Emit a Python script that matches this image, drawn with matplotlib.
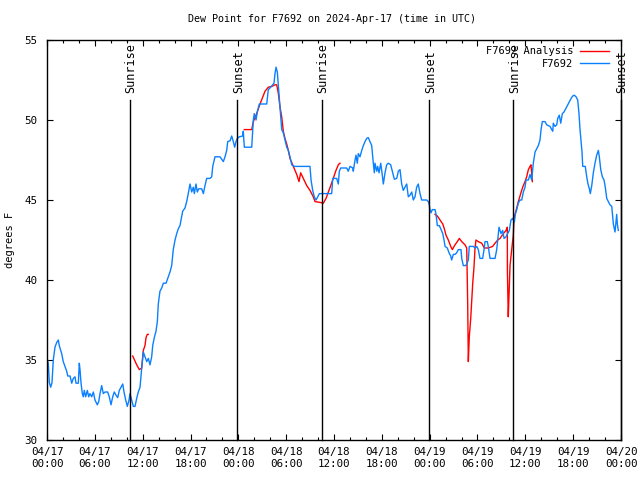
import numpy as np
import matplotlib
matplotlib.use("Agg")
import matplotlib.pyplot as plt
from matplotlib.ticker import MultipleLocator

# hours since 2024-04-17 00:00 UTC
blue_hours = [
    0.0, 0.16, 0.29, 0.46, 0.63, 0.79, 1.0, 1.22, 1.42, 1.54, 1.72, 1.84, 2.04, 2.26, 2.47, 2.60,
    2.89, 3.10, 3.30, 3.51, 3.64, 3.93, 4.05, 4.14, 4.26, 4.43, 4.55, 4.68, 4.85, 5.06, 5.23, 5.39,
    5.61, 5.81, 6.02, 6.31, 6.49, 6.65, 6.86, 7.06, 7.28, 7.61, 7.81, 8.03, 8.24, 8.44, 8.66, 8.87,
    9.07, 9.28, 9.50, 9.66, 9.87, 10.07, 10.29, 10.41, 10.62, 10.83, 11.04, 11.25, 11.45, 11.67,
    11.88, 12.08, 12.29, 12.51, 12.71, 12.92, 13.13, 13.26, 13.46, 13.67, 13.84, 13.96, 14.17, 14.39,
    14.59, 14.93, 15.22, 15.43, 15.64, 15.84, 16.06, 16.27, 16.47, 16.68, 16.90, 17.02, 17.31, 17.52,
    17.72, 17.94, 18.15, 18.35, 18.48, 18.69, 18.85, 19.03, 19.41, 19.61, 19.82, 20.03, 20.45, 20.66,
    20.79, 21.07, 21.70, 22.12, 22.33, 22.54, 22.67, 22.96, 23.17, 23.37, 23.54, 23.71, 23.87, 24.12,
    24.55, 24.62, 24.75, 25.68, 25.88, 26.00, 26.22, 26.38, 26.63, 27.56, 27.76, 27.97, 28.31, 28.47,
    28.60, 28.73, 28.89, 29.01, 29.23, 29.44, 29.64, 29.85, 30.07, 30.27, 30.48, 30.70, 31.02, 32.99,
    33.12, 33.33, 33.53, 33.74, 33.96, 34.16, 35.71, 35.84, 36.34, 36.54, 36.67, 36.84, 37.59, 37.79,
    38.01, 38.35, 38.42, 38.64, 38.76, 38.92, 39.05, 39.26, 39.48, 39.68, 39.89, 40.10, 40.30, 40.52,
    40.73, 40.93, 41.06, 41.14, 41.36, 41.48, 41.65, 41.86, 42.02, 42.19, 42.40, 42.61, 42.81, 43.11,
    43.36, 43.57, 43.87, 44.07, 44.28, 44.49, 44.69, 44.91, 45.12, 45.32, 45.53, 45.75, 45.95, 46.16,
    46.37, 46.57, 46.79, 47.00, 47.63, 47.83, 47.95, 48.04, 48.17, 48.33, 48.67, 48.80, 48.96, 49.21,
    49.39, 49.64, 49.80, 49.93, 50.21, 50.43, 50.64, 50.76, 50.97, 51.18, 51.39, 51.59, 51.93, 52.02,
    52.22, 52.52, 52.65, 52.85, 52.97, 53.48, 53.69, 53.90, 54.10, 54.31, 54.65, 54.82, 54.94, 55.23,
    55.35, 55.57, 56.20, 56.41, 56.54, 56.70, 56.83, 56.95, 57.16, 57.33, 57.58, 57.79, 57.99, 58.20,
    58.41, 58.62, 58.74, 58.92, 59.12, 59.33, 59.55, 59.75, 59.96, 60.09, 60.38, 60.59, 60.80, 61.00,
    61.22, 61.43, 61.63, 61.84, 61.97, 62.13, 62.47, 62.68, 63.10, 63.31, 63.44, 63.51, 63.72, 63.94,
    64.06, 64.26, 64.44, 64.64, 64.85, 65.06, 65.27, 65.48, 65.69, 65.94, 66.14, 66.36, 66.57, 66.73,
    66.86, 66.98, 67.11, 67.20, 67.52, 67.70, 67.86, 68.03, 68.15, 68.33, 68.53, 68.74, 68.95, 69.16,
    69.28, 69.46, 69.66, 69.87, 70.03, 70.21, 70.41, 70.62, 70.84, 71.04, 71.25, 71.46, 71.54, 71.66,
]
blue_dewpt = [
    35.1, 34.8, 33.6, 33.3, 33.6, 35.0, 35.8, 36.1, 36.25, 35.9, 35.6, 35.4, 34.9, 34.6, 34.3, 34.0,
    34.0, 33.55, 33.85, 33.95, 33.55, 33.55, 34.8, 34.4, 33.6, 32.9, 32.7, 33.1, 32.7, 33.1, 32.7, 32.9,
    32.7, 33.0, 32.5, 32.2, 32.4, 32.9, 33.4, 32.9, 33.0, 33.0, 32.7, 32.2, 32.7, 33.0, 32.8, 32.65,
    33.1, 33.3, 33.5, 33.0, 32.5, 32.1, 32.5, 32.9, 32.5, 32.1, 32.1, 32.6, 33.0, 33.3,
    34.5, 35.5, 35.2, 34.9, 35.1, 34.7, 35.2, 35.9, 36.4, 36.8, 37.4, 38.5, 39.3, 39.5,
    39.8, 39.8, 40.2, 40.5, 40.9, 41.9, 42.5, 42.9, 43.2, 43.4, 44.0, 44.3, 44.5, 44.9,
    45.4, 46.0, 45.5, 45.8, 45.4, 46.0, 45.5, 45.7, 45.7, 45.4, 45.9, 46.35, 46.35, 46.45,
    47.1, 47.7, 47.7, 47.4, 47.7, 48.1, 48.65, 48.7, 49.0, 48.65, 48.3, 48.65, 48.85, 48.95,
    49.0, 49.3, 48.3, 48.3, 50.0, 50.4, 50.0, 50.5, 51.0, 51.0, 51.9, 52.0, 52.2, 52.3,
    52.9, 53.3, 53.0, 52.2, 50.8, 49.4, 49.2, 48.75, 48.3, 48.1, 47.7, 47.2, 47.1, 47.1,
    46.25, 45.6, 45.2, 45.0, 45.2, 45.4, 45.4, 46.35, 46.35, 46.0, 46.8, 47.0, 47.0, 46.8,
    47.1, 47.0, 46.8, 47.5, 47.8, 47.3, 47.9, 47.7, 48.1, 48.4, 48.65, 48.85, 48.9, 48.65,
    48.4, 47.3, 46.7, 47.3, 46.8, 47.1, 46.7, 47.3, 46.7, 46.0, 46.7, 47.2, 47.3, 47.2,
    46.7, 46.3, 46.35, 46.8, 46.9, 46.0, 45.6, 45.8, 46.0, 45.2, 45.3, 45.5, 45.0, 45.2,
    45.8, 46.0, 45.4, 45.0, 45.0, 44.9, 44.7, 44.4, 44.2, 44.4, 44.4, 44.1, 43.4, 43.4,
    43.2, 42.9, 42.5, 42.1, 42.0, 41.7, 41.5, 41.25, 41.6, 41.6, 41.7, 41.9, 41.9, 41.35,
    40.9, 40.9, 41.0, 41.25, 42.1, 42.1, 42.0, 42.1, 41.9, 41.35, 41.35, 41.9, 42.4, 42.4,
    42.1, 41.35, 41.35, 41.9, 42.5, 43.3, 43.1, 42.9, 43.1, 42.6, 42.7, 42.9, 43.1, 43.75,
    43.85, 43.6, 44.1, 44.4, 44.8, 45.0, 45.0, 45.5, 45.8, 46.25, 46.25, 46.6, 46.25, 47.3,
    48.0, 48.2, 48.4, 48.75, 49.4, 49.9, 49.9, 49.7, 49.6, 49.4, 49.3, 49.8, 49.6, 49.7,
    50.1, 50.3, 49.8, 50.4, 50.5, 50.7, 50.9, 51.1, 51.3, 51.5, 51.55, 51.45, 51.25, 50.4,
    49.4, 48.75, 48.0, 47.1, 47.1, 46.45, 46.0, 45.7, 45.4, 45.9, 46.7, 47.3, 47.8, 48.1,
    47.7, 46.9, 46.45, 46.25, 45.8, 45.1, 44.9, 44.7, 44.6, 43.5, 43.0, 44.1, 43.5, 43.1,
]

# analysis series, NaN marks gaps between the three pieces
red_hours = [
    10.75, 11.25, 11.58, 11.88, 12.08, 12.29, 12.42, 12.58, 12.71, np.nan,
    24.75, 25.68, 25.88, 26.30, 26.72, 27.35, 27.76, 28.19, 28.60, 28.81, 29.01, 29.23, 29.44,
    29.64, 29.85, 30.07, 30.27, 30.48, 30.90, 31.32, 31.61, 31.82, 32.15, 32.58, 32.99, 33.40,
    33.62, 34.24, 34.66, 35.00, 35.29, 35.59, 35.91, 36.21, 36.54, 36.75, np.nan,
    48.67, 48.96, 49.30, 49.64, 49.84, 50.05, 50.34, 50.64, 50.84, 51.18, 51.47, 51.72, 52.02,
    52.43, 52.65, 52.77, 52.85, 52.97, 53.15, 53.27, 53.40, 53.56, 53.69, 53.81, 54.10, 54.53,
    54.85, 55.35, 55.90, 56.20, 56.54, 56.83, 57.24, 57.58, 57.74, 57.75, 57.86, 57.95, 58.08,
    58.29, 58.49, 58.58, 58.70, 58.92, 59.12, 59.42, 59.67, 59.96, 60.17, 60.38, 60.59, 60.71,
    60.88,
]
red_dewpt = [
    35.25, 34.7, 34.4, 34.5, 35.6, 35.9, 36.4, 36.6, 36.6, np.nan,
    49.4, 49.4, 49.9, 50.4, 51.0, 51.8, 52.05, 52.1, 52.2, 52.2, 51.7, 50.8, 50.2,
    49.3, 48.85, 48.5, 48.1, 47.6, 47.1, 46.6, 46.15, 46.7, 46.35, 45.9, 45.6, 45.2,
    44.9, 44.85, 44.8, 45.1, 45.5, 45.9, 46.35, 46.8, 47.2, 47.3, np.nan,
    44.1, 44.0, 43.75, 43.5, 43.2, 42.8, 42.5, 42.1, 41.9, 42.2, 42.4, 42.6, 42.4,
    42.2, 42.0, 38.5, 34.9, 36.45, 37.6, 38.65, 39.8, 40.8, 42.0, 42.5, 42.4, 42.3,
    42.0, 42.0, 42.1, 42.3, 42.5, 42.6, 42.9, 43.1, 43.3, 40.6, 37.7, 39.0, 40.9,
    41.9, 42.8, 43.75, 44.1, 44.5, 44.9, 45.4, 45.8, 46.15, 46.45, 46.9, 47.1, 47.2,
    46.15,
]

sun_hours = [10.41, 23.84, 34.5, 47.93, 58.47, 72.0]
sun_names = ["Sunrise", "Sunset", "Sunrise", "Sunset", "Sunrise", "Sunset"]

tick_hours = list(range(0, 73, 6))
tick_labels = ["04/17\n00:00", "04/17\n06:00", "04/17\n12:00", "04/17\n18:00",
               "04/18\n00:00", "04/18\n06:00", "04/18\n12:00", "04/18\n18:00",
               "04/19\n00:00", "04/19\n06:00", "04/19\n12:00", "04/19\n18:00",
               "04/20\n00:00"]

plt.rcParams["font.family"] = "DejaVu Sans Mono"
plt.rcParams["font.size"] = 7.5

fig = plt.figure(figsize=(6.4, 4.8), dpi=100)
ax = fig.add_axes([47 / 640, 40 / 480, 574 / 640, 400 / 480])

ax.plot(red_hours, red_dewpt, color="#ff0000", lw=1, label="F7692 Analysis")
ax.plot(blue_hours, blue_dewpt, color="#0a80ff", lw=1, label="F7692")

for h, name in zip(sun_hours, sun_names):
    ax.plot([h, h], [30, 51.25], color="black", lw=1, clip_on=False)
    ax.text(h + 0.15, 51.7, name, rotation=90, ha="center", va="bottom", fontsize=8.5)

ax.set_xlim(0, 72)
ax.set_ylim(30, 55)
ax.set_xticks(tick_hours)
ax.set_xticklabels(tick_labels)
ax.xaxis.set_minor_locator(MultipleLocator(2))
ax.set_yticks(range(30, 56, 5))
ax.tick_params(which="major", direction="in", top=True, right=True, length=4.5, width=0.8)
ax.tick_params(which="minor", direction="in", top=True, right=False, length=2.5, width=0.8)
ax.tick_params(axis="x", pad=5, labelsize=7.8)
ax.tick_params(axis="y", pad=7, labelsize=7.8)
for s in ax.spines.values():
    s.set_linewidth(1)

fig.text(10 / 640, 0.5, "degrees F", rotation=90, ha="center", va="center")
fig.text(332 / 640, 1 - 19 / 480, "Dew Point for F7692 on 2024-Apr-17 (time in UTC)",
         ha="center", va="center", fontsize=7.2)

ax.legend(loc="upper right", bbox_to_anchor=(0.99, 1.0), frameon=False, markerfirst=False,
          handlelength=2.8, handletextpad=0.6, labelspacing=0.25, borderaxespad=0.2)

fig.savefig("out.png", dpi=100)
